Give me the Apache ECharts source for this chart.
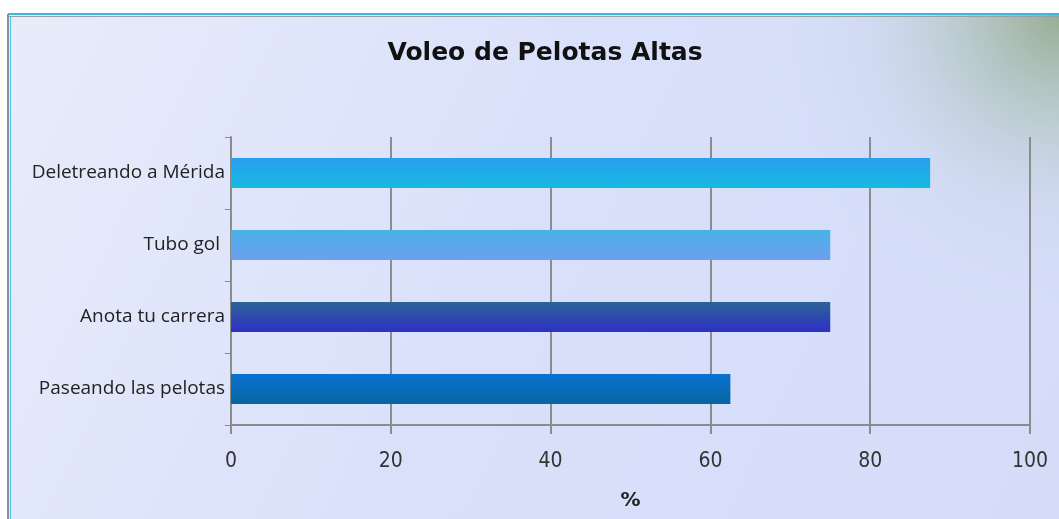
<!DOCTYPE html>
<html>
<head>
<meta charset="utf-8">
<script src="https://cdn.jsdelivr.net/npm/echarts@6/dist/echarts.min.js"></script>
<style>
  html, body { margin: 0; padding: 0; background: #fff; }
  #chart { width: 1059px; height: 519px; }
</style>
</head>
<body>
<div id="chart"></div>
<script>
// data, bottom to top as the category axis draws them
const categories = ['Paseando las pelotas', 'Anota tu carrera', 'Tubo gol ', 'Deletreando a Mérida']
const values = [62.5, 75, 75, 87.5]
const barColors = [
  ['#0a72d2', '#07659f'],
  ['#2c6494', '#2f2fc6'],
  ['#48b2e6', '#6e9ef0'],
  ['#2a9ef2', '#16bae0']
]
const xTicks = [0, 20, 40, 60, 80, 100]

const grad = (c) => new echarts.graphic.LinearGradient(0, 0, 0, 1, [
  { offset: 0, color: c[0] }, { offset: 1, color: c[1] }
])

const chart = echarts.init(document.getElementById('chart'))
chart.setOption({
  animation: false,
  graphic: [
    {
      type: 'rect', z: -10, silent: true,
      shape: { x: 8, y: 14, width: 1051, height: 505 },
      style: {
        fill: new echarts.graphic.LinearGradient(0, 0, 1, 1, [
          { offset: 0, color: '#e8ecfa' },
          { offset: 0.5, color: '#d8e0fa' },
          { offset: 1, color: '#d4dcf8' }
        ])
      }
    },
    {
      type: 'rect', z: -9, silent: true,
      shape: { x: 8, y: 14, width: 1051, height: 505 },
      style: {
        fill: new echarts.graphic.RadialGradient(1, 0, 0.62, [
          { offset: 0, color: 'rgba(145,168,135,0.9)' },
          { offset: 0.3, color: 'rgba(170,190,180,0.65)' },
          { offset: 0.65, color: 'rgba(200,212,230,0.3)' },
          { offset: 1, color: 'rgba(214,222,249,0)' }
        ])
      }
    },
    { type: 'line', silent: true, shape: { x1: 8, y1: 14, x2: 1059, y2: 14 }, style: { stroke: '#3fb6df', lineWidth: 2 } },
    { type: 'line', silent: true, shape: { x1: 8, y1: 16.5, x2: 1059, y2: 16.5 }, style: { stroke: '#9aa0a8', lineWidth: 1 } },
    { type: 'line', silent: true, shape: { x1: 8, y1: 14, x2: 8, y2: 519 }, style: { stroke: '#8a9098', lineWidth: 2 } },
    { type: 'line', silent: true, shape: { x1: 10.5, y1: 16, x2: 10.5, y2: 519 }, style: { stroke: '#4cc0e6', lineWidth: 1 } }
  ],
  title: {
    text: 'Voleo de Pelotas Altas',
    left: 540, top: 36, textAlign: 'center',
    textStyle: { fontFamily: 'DejaVu Sans', fontWeight: 'bold', fontSize: 25, color: '#111' }
  },
  grid: { left: 231, right: 29, top: 137, bottom: 94 },
  xAxis: {
    type: 'value', min: 0, max: 100, interval: 20,
    name: '%', nameLocation: 'middle', nameGap: 66,
    nameTextStyle: { fontFamily: 'DejaVu Sans', fontWeight: 'bold', fontSize: 20, color: '#222' },
    axisLine: { show: true, lineStyle: { color: '#8c8c8c', width: 2 } },
    axisTick: { show: true, length: 9, lineStyle: { color: '#8c8c8c', width: 2 } },
    axisLabel: {
      margin: 26, fontFamily: 'DejaVu Sans Condensed, Liberation Sans', fontSize: 21, color: '#333',
      formatter: (v) => xTicks.includes(v) ? String(v) : ''
    },
    splitLine: { show: true, lineStyle: { color: '#8c8c8c', width: 2 } }
  },
  yAxis: {
    type: 'category', data: categories,
    axisLine: { show: true, lineStyle: { color: '#8c8c8c', width: 2 } },
    axisTick: { show: true, length: 6, lineStyle: { color: '#8c8c8c', width: 1 } },
    axisLabel: { margin: 6, fontFamily: 'Open Sans', fontSize: 19, color: '#222' }
  },
  series: [{
    type: 'bar',
    barWidth: 30,
    data: values.map((v, i) => ({
      value: v,
      itemStyle: { color: grad(barColors[i]) }
    }))
  }]
})
</script>
</body>
</html>
